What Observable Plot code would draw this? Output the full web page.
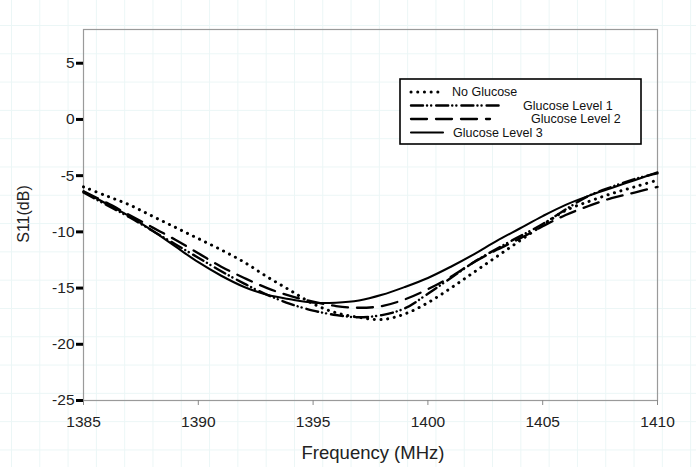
<!DOCTYPE html>
<html>
<head>
<meta charset="utf-8">
<script src="https://cdn.jsdelivr.net/npm/d3@7"></script>
<script src="https://cdn.jsdelivr.net/npm/@observablehq/plot@0.6"></script>
<style>
  html, body { margin: 0; padding: 0; background: #fff; }
  #wrap {
    position: relative; width: 696px; height: 467px; overflow: hidden;
    background-color: #fff;
    background-image:
      linear-gradient(to right, #ebf6f6 1px, transparent 1px),
      linear-gradient(to bottom, #ebf6f6 1px, transparent 1px);
    background-size: 28.3px 28.3px;
    background-position: 11px 25px;
    font-family: "Liberation Sans", Arial, sans-serif;
  }
  #chart { position: absolute; left: 0; top: 0; }
  .axlabel { position: absolute; color: #222; white-space: nowrap; }
  #xlabel { left: 373px; top: 453px; font-size: 18.5px; transform: translate(-50%, -50%); }
  #ylabel { left: 24px; top: 214px; font-size: 16px; transform: translate(-50%, -50%) rotate(-90deg); }
  #legend { position: absolute; left: 399px; top: 78px; }
</style>
</head>
<body>
<div id="wrap">
  <div id="chart"></div>
  <div id="xlabel" class="axlabel">Frequency (MHz)</div>
  <div id="ylabel" class="axlabel">S11(dB)</div>
  <div id="legend"></div>
</div>
<script>
// ---- data ----
const freq = [1385,1386,1387,1388,1389,1390,1391,1392,1393,1394,1395,1396,1397,1398,1399,1400,1401,1402,1403,1404,1405,1406,1407,1408,1409,1410];

const noGlucose = [-6.0,-6.8,-7.6,-8.6,-9.6,-10.6,-11.6,-12.7,-14.0,-15.2,-16.4,-17.2,-17.6,-17.8,-17.3,-16.3,-15.0,-13.6,-12.2,-10.8,-9.4,-8.1,-7.3,-6.6,-6.0,-5.4];
const glucoseLevel1 = [-6.5,-7.6,-8.7,-9.9,-11.1,-12.3,-13.5,-14.6,-15.6,-16.4,-17.0,-17.4,-17.6,-17.4,-16.8,-15.5,-14.1,-12.7,-11.5,-10.4,-9.3,-8.0,-6.8,-6.0,-5.3,-4.8];
const glucoseLevel2 = [-6.4,-7.4,-8.5,-9.6,-10.7,-11.9,-13.1,-14.1,-15.0,-15.7,-16.2,-16.6,-16.75,-16.6,-16.0,-15.1,-14.0,-12.7,-11.6,-10.6,-9.5,-8.5,-7.7,-7.0,-6.5,-6.0];
const glucoseLevel3 = [-6.4,-7.5,-8.6,-9.9,-11.3,-12.7,-13.9,-14.9,-15.6,-16.0,-16.3,-16.3,-16.1,-15.6,-14.9,-14.1,-13.1,-12.0,-10.8,-9.7,-8.6,-7.6,-6.8,-6.1,-5.4,-4.7];

const seriesNames = ["No Glucose", "Glucose Level 1", "Glucose Level 2", "Glucose Level 3"];
const xTicks = [1385, 1390, 1395, 1400, 1405, 1410];
const yTicks = [-25, -20, -15, -10, -5, 0, 5];

// ---- styling ----
const lineStyle = {
  "No Glucose":      {dash: "0.1 6.6", width: 3.0},
  "Glucose Level 1": {dash: "12 4 0.1 4 0.1 5", width: 2.4},
  "Glucose Level 2": {dash: "16 9", width: 2.3},
  "Glucose Level 3": {dash: null, width: 2.1}
};

const allSeries = [noGlucose, glucoseLevel1, glucoseLevel2, glucoseLevel3];
const rows = [];
allSeries.forEach((vals, si) => vals.forEach((v, i) => rows.push({f: freq[i], s: seriesNames[si], v})));

const lineMarks = seriesNames.map(name => Plot.line(rows.filter(d => d.s === name), {
  x: "f", y: "v", curve: "catmull-rom",
  stroke: "#000", strokeWidth: lineStyle[name].width,
  strokeDasharray: lineStyle[name].dash || undefined,
  strokeLinecap: "round", strokeLinejoin: "round"
}));

const plot = Plot.plot({
  width: 696, height: 467,
  marginLeft: 83, marginRight: 39, marginTop: 29, marginBottom: 67,
  style: {background: "transparent", fontFamily: "'Liberation Sans', Arial, sans-serif", color: "#222"},
  x: {domain: [1385, 1410]},
  y: {domain: [-25, 8]},
  marks: [
    Plot.frame({stroke: "#9a9a9a", strokeWidth: 1.2}),
    ...lineMarks,
    Plot.axisX({ticks: xTicks, tickSize: 5, tickPadding: 10, stroke: "#888", fontSize: 15.5, label: null, tickFormat: d => String(d)}),
    Plot.axisY({ticks: yTicks, tickSize: 7, tickPadding: 2, stroke: "#000", strokeWidth: 3, fontSize: 15.5, label: null, tickFormat: d => String(d).replace("−", "-")})
  ]
});
document.getElementById("chart").appendChild(plot);

// ---- legend ----
const legendLayout = [
  {y: 14,   x2: 41,  tx: 53},
  {y: 27.5, x2: 101, tx: 124},
  {y: 41,   x2: 91,  tx: 132},
  {y: 54.5, x2: 44,  tx: 54}
];
const lg = d3.select("#legend").append("svg").attr("width", 244).attr("height", 68);
lg.append("rect").attr("x", 1).attr("y", 1).attr("width", 241).attr("height", 65)
  .attr("fill", "#fff").attr("stroke", "#000").attr("stroke-width", 1.6);
seriesNames.forEach((name, i) => {
  const L = legendLayout[i];
  lg.append("line").attr("x1", 12).attr("x2", L.x2).attr("y1", L.y).attr("y2", L.y)
    .attr("stroke", "#000").attr("stroke-width", lineStyle[name].width)
    .attr("stroke-linecap", "round")
    .attr("stroke-dasharray", lineStyle[name].dash);
  lg.append("text").attr("x", L.tx).attr("y", L.y).attr("dy", "0.35em")
    .attr("font-size", 12.5).attr("fill", "#111")
    .attr("font-family", "'Liberation Sans', Arial, sans-serif").text(name);
});
</script>
</body>
</html>
